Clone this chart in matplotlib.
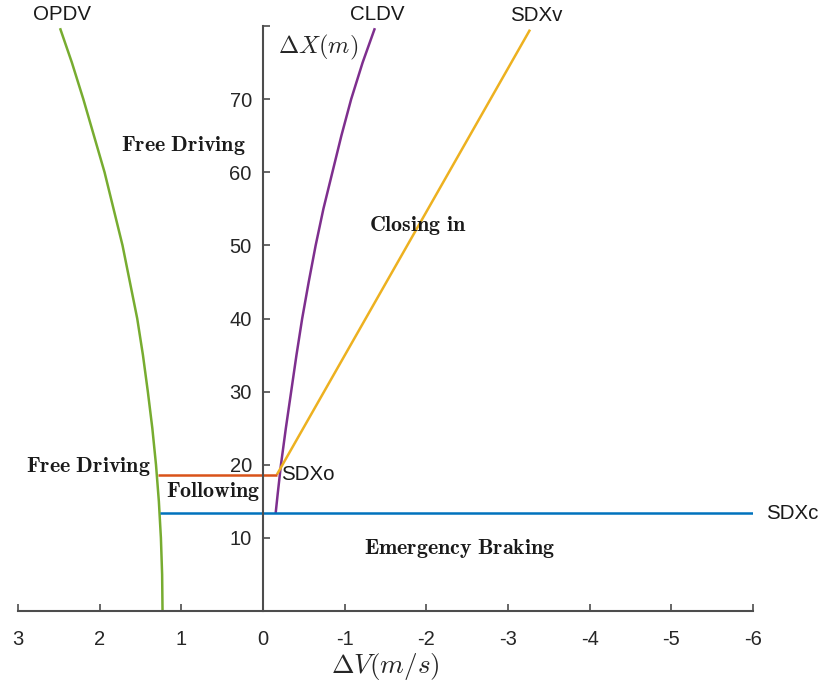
import matplotlib
matplotlib.use("Agg")
import matplotlib.pyplot as plt

plt.rcParams['font.family'] = ['Liberation Sans', 'DejaVu Sans']
plt.rcParams['mathtext.fontset'] = 'cm'

# OPDV (green) curve
opdv_y = [0, 5, 10, 15, 20, 25, 30, 35, 40, 45, 50, 55, 60, 65, 70, 75, 79.7]
opdv_x = [1.23, 1.235, 1.25, 1.275, 1.31, 1.355, 1.41, 1.47, 1.54, 1.63, 1.72,
          1.83, 1.94, 2.07, 2.20, 2.34, 2.485]
# CLDV (purple) curve
cldv_y = [13.36, 16, 20, 25, 30, 35, 40, 45, 50, 55, 60, 65, 70, 75, 79.7]
cldv_x = [-0.155, -0.18, -0.22, -0.28, -0.345, -0.41, -0.48, -0.56, -0.645,
          -0.74, -0.85, -0.96, -1.08, -1.22, -1.37]
# SDXv (yellow) line
sdxv_x = [-0.17, -3.27]
sdxv_y = [18.65, 79.5]
# SDXo (orange) horizontal
sdxo_x = [1.29, -0.17]
sdxo_y = [18.65, 18.65]
# SDXc (blue) horizontal
sdxc_x = [1.26, -6.0]
sdxc_y = [13.36, 13.36]

xticks = [3, 2, 1, 0, -1, -2, -3, -4, -5, -6]
xticklabels = ['3', '2', '1', '0', '-1', '-2', '-3', '-4', '-5', '-6']
yticks = [10, 20, 30, 40, 50, 60, 70, 80]
yticklabels = ['10', '20', '30', '40', '50', '60', '70', '']

fig = plt.figure(figsize=(8.25, 6.93), dpi=100)
ax = fig.add_axes([0.0218, 0.1183, 0.8909, 0.8442])
ax.set_xlim(3, -6)
ax.set_ylim(0, 80)

lw = 1.8
ax.plot(opdv_x, opdv_y, color='#77AC30', lw=lw, solid_capstyle='butt')
ax.plot(cldv_x, cldv_y, color='#7E2F8E', lw=lw, solid_capstyle='butt')
ax.plot(sdxv_x, sdxv_y, color='#EDB120', lw=lw, solid_capstyle='butt')
ax.plot(sdxo_x, sdxo_y, color='#D95319', lw=lw, solid_capstyle='butt')
ax.plot(sdxc_x, sdxc_y, color='#0072BD', lw=lw, solid_capstyle='butt')

spine_col = '#4d4d4d'
ax.spines['left'].set_position(('data', 0))
ax.spines['bottom'].set_position(('data', 0))
ax.spines['top'].set_visible(False)
ax.spines['right'].set_visible(False)
for s in ('left', 'bottom'):
    ax.spines[s].set_color(spine_col)
    ax.spines[s].set_linewidth(1.5)

ax.set_xticks(xticks)
ax.set_xticklabels(xticklabels)
ax.set_yticks(yticks)
ax.set_yticklabels(yticklabels)
ax.tick_params(axis='both', direction='in', length=5, width=1.2, color=spine_col,
               labelsize=14.5, labelcolor='#262626')
ax.tick_params(axis='x', pad=14)
ax.tick_params(axis='y', pad=8)

ax.text(0.4995, -0.094, r'$\Delta V(m/s)$', transform=ax.transAxes, ha='center', va='center',
        fontsize=19.5, color='#262626')
ax.text(-0.67, 77, r'$\Delta X(m)$', ha='center', va='center', fontsize=17.5, color='#262626')

lab_kw = dict(fontsize=14.8, color='#1a1a1a', clip_on=False)
ax.text(2.46, 81.6, 'OPDV', ha='center', va='center', **lab_kw)
ax.text(-1.40, 81.6, 'CLDV', ha='center', va='center', **lab_kw)
ax.text(-3.34, 81.4, 'SDXv', ha='center', va='center', **lab_kw)
ax.text(-6.16, 13.36, 'SDXc', ha='left', va='center', **lab_kw)
ax.text(-0.22, 18.65, 'SDXo', ha='left', va='center', **lab_kw)

bkw = dict(fontsize=15.8, color='#1a1a1a', va='center')
ax.text(0.98, 63.7, r'$\mathbf{Free\ Driving}$', ha='center', **bkw)
ax.text(2.14, 19.8, r'$\mathbf{Free\ Driving}$', ha='center', **bkw)
ax.text(0.61, 16.3, r'$\mathbf{Following}$', ha='center', **bkw)
ax.text(-1.90, 52.7, r'$\mathbf{Closing\ in}$', ha='center', **bkw)
ax.text(-2.41, 8.6, r'$\mathbf{Emergency\ Braking}$', ha='center', **bkw)

fig.savefig('out.png', dpi=100)
